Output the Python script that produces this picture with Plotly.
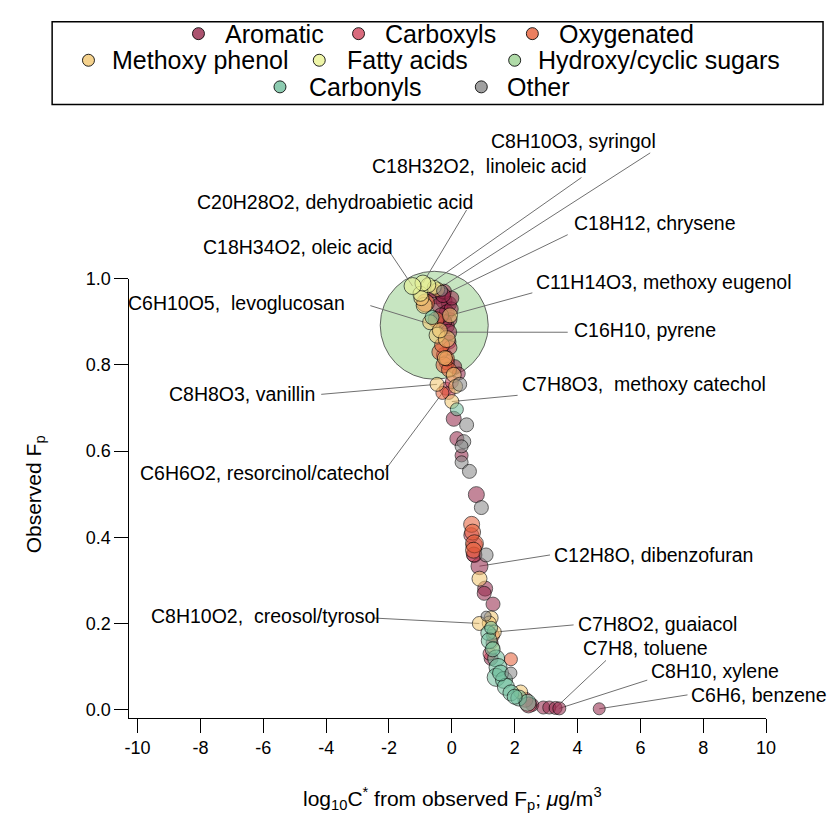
import plotly.graph_objects as go

# ---------------- data ----------------
categories = ["Aromatic", "Carboxyls", "Oxygenated", "Methoxy phenol",
              "Fatty acids", "Hydroxy/cyclic sugars", "Carbonyls", "Other"]

aromatic_x = [-0.47, -0.25, -0.09, -0.38, -0.16, -0.06, -0.25, -0.56, -0.16, -0.09, 0.09, 0.22,
              -0.22, -0.02, 0.0, -0.34, 0.06, 0.16, 0.31, 0.78, 0.72, 1.06, 1.03, 1.31, 1.25,
              2.56, 2.91, 3.10]
aromatic_y = [0.960, 0.949, 0.942, 0.938, 0.922, 0.905, 0.970, 0.972, 0.890, 0.853, 0.796, 0.780,
              0.900, 0.930, 0.955, 0.915, 0.675, 0.629, 0.590, 0.499, 0.359, 0.281, 0.270, 0.245,
              0.119, 0.011, 0.005, 0.005]
aromatic_size = [16, 16, 15, 16, 15, 14, 15, 14, 15, 14, 14, 13, 14, 14, 14, 15, 15, 14, 13, 16,
                 15, 15, 14, 14, 14, 13, 13, 13]

carboxyls_x = [-0.25, -0.16, -0.06, -0.19, -0.10, 0.72, 0.62, 0.70, 2.34, 2.44, 1.20, 1.28, 0.0]
carboxyls_y = [0.823, 0.806, 0.840, 0.745, 0.735, 0.382, 0.405, 0.360, 0.023, 0.011, 0.130, 0.155, 0.760]
carboxyls_size = [15, 15, 14, 13, 13, 16, 15, 15, 15, 16, 13, 12, 13]

oxygenated_x = [-0.38, -0.25, -0.09, -0.31, -0.16, 0.63, 0.66, 0.72, 0.69, 1.31, 1.88, -0.84, -0.50]
oxygenated_y = [0.830, 0.800, 0.789, 0.846, 0.815, 0.430, 0.412, 0.385, 0.370, 0.172, 0.117, 0.944, 0.905]
oxygenated_size = [16, 16, 15, 15, 15, 16, 16, 18, 16, 13, 13, 18, 16]

methoxy_x = [-0.88, -0.69, -0.47, -0.22, 0.06, 0.88, 1.25, 1.19, 2.19, -0.16, -0.97, -0.38, 0.12]
methoxy_y = [0.938, 0.899, 0.869, 0.816, 0.777, 0.304, 0.213, 0.201, 0.041, 0.860, 0.955, 0.880, 0.750]
methoxy_size = [16, 15, 16, 15, 15, 15, 14, 14, 14, 17, 15, 15, 14]

fatty_x = [-1.0, 1.31, -0.56]
fatty_y = [0.965, 0.144, 0.980]
fatty_size = [15, 13, 14]

sugars_x = []
sugars_y = []
sugars_size = []

carbonyls_x = [-0.63, 0.16, 1.16, 1.19, 1.41, 1.47, 1.41, 1.66, 1.72, 1.88, 2.13, 2.41, 1.30, 1.55, 2.00, 1.25]
carbonyls_y = [0.910, 0.697, 0.178, 0.160, 0.119, 0.098, 0.075, 0.069, 0.053, 0.039, 0.027, 0.016,
               0.140, 0.085, 0.030, 0.190]
carbonyls_size = [14, 13, 15, 16, 17, 18, 18, 17, 17, 16, 16, 17, 15, 16, 15, 13]

other_x = [-0.31, 0.25, 0.47, 0.38, 0.31, 0.31, 0.56, 0.94, 1.09, 1.09, 1.88]
other_y = [0.972, 0.755, 0.661, 0.622, 0.611, 0.574, 0.553, 0.469, 0.359, 0.217, 0.085]
other_size = [11, 14, 14, 14, 13, 13, 14, 14, 14, 10, 12]

# labelled compounds
labeled_name = ["C8H10O3, syringol", "C18H32O2,\u00a0 linoleic acid", "C20H28O2, dehydroabietic acid",
                "C18H34O2, oleic acid", "C18H12, chrysene", "C11H14O3, methoxy eugenol",
                "C6H10O5,\u00a0 levoglucosan", "C16H10, pyrene", "C8H8O3, vanillin",
                "C7H8O3,\u00a0 methoxy catechol", "C6H6O2, resorcinol/catechol", "C12H8O, dibenzofuran",
                "C8H10O2,\u00a0 creosol/tyrosol", "C7H8O2, guaiacol", "C7H8, toluene", "C8H10, xylene",
                "C6H6, benzene"]
labeled_cat = ["Methoxy phenol", "Fatty acids", "Fatty acids", "Fatty acids", "Aromatic",
               "Methoxy phenol", "Hydroxy/cyclic sugars", "Aromatic", "Methoxy phenol",
               "Methoxy phenol", "Oxygenated", "Aromatic", "Methoxy phenol", "Methoxy phenol",
               "Aromatic", "Aromatic", "Aromatic"]
labeled_x = [-0.45, -0.75, -0.92, -1.25, -0.28, -0.06, -0.56, -0.10, -0.47, 0.0, -0.30, 0.88,
             0.875, 1.35, 3.30, 3.42, 4.69]
labeled_y = [0.975, 0.985, 0.990, 0.983, 0.962, 0.915, 0.892, 0.876, 0.755, 0.715, 0.735, 0.333,
             0.200, 0.180, 0.004, 0.003, 0.002]
labeled_size = [14, 15, 16, 17, 15, 15, 108, 16, 14, 14, 13, 17, 14, 14, 13, 13, 12]

x_ticks = [-10, -8, -6, -4, -2, 0, 2, 4, 6, 8, 10]
x_ticktext = ["-10", "-8", "-6", "-4", "-2", "0", "2", "4", "6", "8", "10"]
y_ticks = [0.0, 0.2, 0.4, 0.6, 0.8, 1.0]
y_ticktext = ["0.0", "0.2", "0.4", "0.6", "0.8", "1.0"]

# ---------------- layout geometry (pixels) ----------------
W, H = 835, 825
L, R, T, B = 126.7, 775.0, 272.7, 718.0
XR = [-10.26, 10.0]
YR = [-0.0183, 1.0]

sx = (XR[1] - XR[0]) / (R - L)
sy = (YR[1] - YR[0]) / (B - T)
X2R = [XR[0] - L * sx, XR[1] + (W - R) * sx]
Y2R = [YR[0] - (H - B) * sy, YR[1] + T * sy]


def px2x(px):
    return X2R[0] + px * sx


def py2y(py):
    return Y2R[1] - py * sy


# label text (left x, middle y) and leader tail, in px
label_text_pos = [(493, 133), (372, 158), (193, 195), (200, 240), (577, 216), (539, 276),
                  (123, 297), (577, 325), (165, 390), (524, 380), (135, 470), (557, 553),
                  (147, 615), (581, 623), (587, 647), (656, 671), (697, 695)]
label_tail = [(657, 145), (587, 170), (470, 203), (390, 243), (573, 228), (537, 287),
              (372, 300), (573, 327), (322, 390), (522, 391), (387, 467), (555, 553),
              (375, 617), (579, 624), (612, 660), (654, 680), (695, 695)]

fill = {
    "Aromatic": "rgba(150,40,75,0.8)",
    "Carboxyls": "rgba(208,70,92,0.8)",
    "Oxygenated": "rgba(230,95,56,0.8)",
    "Methoxy phenol": "rgba(243,199,112,0.8)",
    "Fatty acids": "rgba(234,243,146,0.8)",
    "Hydroxy/cyclic sugars": "rgba(156,210,146,0.8)",
    "Carbonyls": "rgba(111,190,156,0.8)",
    "Other": "rgba(136,136,136,0.8)",
}
series = {
    "Aromatic": (aromatic_x, aromatic_y, aromatic_size),
    "Carboxyls": (carboxyls_x, carboxyls_y, carboxyls_size),
    "Oxygenated": (oxygenated_x, oxygenated_y, oxygenated_size),
    "Methoxy phenol": (methoxy_x, methoxy_y, methoxy_size),
    "Fatty acids": (fatty_x, fatty_y, fatty_size),
    "Hydroxy/cyclic sugars": (sugars_x, sugars_y, sugars_size),
    "Carbonyls": (carbonyls_x, carbonyls_y, carbonyls_size),
    "Other": (other_x, other_y, other_size),
}

FONT = "Liberation Sans, Arial, Helvetica, sans-serif"
fig = go.Figure()


def cat_points(cat):
    xs, ys, ss = series[cat]
    xs, ys, ss = list(xs), list(ys), list(ss)
    for n, c, x, y, s in zip(labeled_name, labeled_cat, labeled_x, labeled_y, labeled_size):
        if c == cat:
            xs.append(x); ys.append(y); ss.append(s)
    return xs, ys, ss


# big sugar circle on base subplot (drawn below everything)
sx_, sy_, ss_ = cat_points("Hydroxy/cyclic sugars")
fig.add_trace(go.Scatter(x=sx_, y=sy_, mode="markers", xaxis="x", yaxis="y", cliponaxis=False,
                         marker=dict(size=ss_, color=fill["Hydroxy/cyclic sugars"],
                                     line=dict(color="rgba(0,0,0,0.85)", width=1)),
                         showlegend=False, hoverinfo="skip"))

# leader lines on overlay subplot (full figure)
lx, ly = [], []
for (tx, ty), hx, hy in zip(label_tail, labeled_x, labeled_y):
    lx += [px2x(tx), hx, None]
    ly += [py2y(ty), hy, None]
fig.add_trace(go.Scatter(x=lx, y=ly, mode="lines", xaxis="x2", yaxis="y2",
                         line=dict(color="#707070", width=1), showlegend=False, hoverinfo="skip"))

draw_order = ["Aromatic", "Carboxyls", "Oxygenated", "Methoxy phenol", "Fatty acids",
              "Carbonyls", "Other"]
for cat in draw_order:
    xs, ys, ss = cat_points(cat)
    fig.add_trace(go.Scatter(x=xs, y=ys, mode="markers", xaxis="x2", yaxis="y2",
                             marker=dict(size=ss, color=fill[cat],
                                         line=dict(color="rgba(0,0,0,0.85)", width=1)),
                             name=cat, showlegend=False))

# ---------------- manual legend ----------------
legend_items = [("Aromatic", 197, 222, 24), ("Carboxyls", 360, 385, 24), ("Oxygenated", 537, 562, 24),
                ("Methoxy phenol", 85, 107, 51), ("Fatty acids", 320, 346, 51),
                ("Hydroxy/cyclic sugars", 519, 541, 51),
                ("Carbonyls", 280, 308, 78), ("Other", 485, 509, 78)]
fig.add_trace(go.Scatter(x=[px2x(c) for _, c, _, _ in legend_items],
                         y=[py2y(r) for _, _, _, r in legend_items],
                         mode="markers", xaxis="x2", yaxis="y2",
                         marker=dict(size=12, color=[fill[n] for n, _, _, _ in legend_items],
                                     line=dict(color="rgba(0,0,0,0.85)", width=1)),
                         showlegend=False, hoverinfo="skip"))

annotations = []
for n, c, t, r in legend_items:
    annotations.append(dict(text=n, x=t / W, y=1 - r / H, xref="paper", yref="paper",
                            xanchor="left", yanchor="middle", showarrow=False,
                            font=dict(size=25, color="black", family=FONT)))

for name, (tx, ty) in zip(labeled_name, label_text_pos):
    annotations.append(dict(text=name, x=tx / W, y=1 - ty / H, xref="paper", yref="paper",
                            xanchor="left", yanchor="middle", showarrow=False,
                            font=dict(size=19.5, color="black", family=FONT)))

annotations.append(dict(text="Observed F<sub>p</sub>", x=30 / W, y=1 - 491 / H, xref="paper",
                        yref="paper", textangle=-90, showarrow=False, xanchor="center",
                        yanchor="middle", font=dict(size=21, color="black", family=FONT)))
annotations.append(dict(text="log<sub>10</sub>C<sup>*</sup> from observed F<sub>p</sub>; <i>μ</i>g/m<sup>3</sup>",
                        x=456 / W, y=1 - 800 / H, xref="paper", yref="paper", showarrow=False,
                        xanchor="center", yanchor="middle",
                        font=dict(size=21, color="black", family=FONT)))

shapes = [dict(type="rect", xref="paper", yref="paper", x0=48 / W, x1=833 / W,
               y0=1 - 96 / H, y1=1 - 12 / H, line=dict(color="black", width=1.5),
               fillcolor="rgba(0,0,0,0)")]

fig.update_layout(
    width=W, height=H, margin=dict(l=0, r=0, t=0, b=0),
    paper_bgcolor="white", plot_bgcolor="rgba(0,0,0,0)",
    font=dict(family=FONT, color="black"),
    showlegend=False,
    xaxis=dict(domain=[L / W, R / W], range=XR, anchor="y", tickvals=x_ticks, ticktext=x_ticktext,
               ticks="outside", ticklen=14, tickwidth=1, tickcolor="black", showline=True,
               linecolor="black", linewidth=1, showgrid=False, zeroline=False,
               tickfont=dict(size=18, color="black", family=FONT)),
    yaxis=dict(domain=[(H - B) / H, (H - T) / H], range=YR, anchor="x", tickvals=y_ticks,
               ticktext=y_ticktext, ticks="outside", ticklen=14, tickwidth=1, tickcolor="black",
               showline=True, linecolor="black", linewidth=1, showgrid=False, zeroline=False,
               tickfont=dict(size=18, color="black", family=FONT)),
    xaxis2=dict(domain=[0, 1], range=X2R, anchor="y2", visible=False, showgrid=False, zeroline=False),
    yaxis2=dict(domain=[0, 1], range=Y2R, anchor="x2", visible=False, showgrid=False, zeroline=False),
    annotations=annotations, shapes=shapes,
)

fig.write_html("out.html")
